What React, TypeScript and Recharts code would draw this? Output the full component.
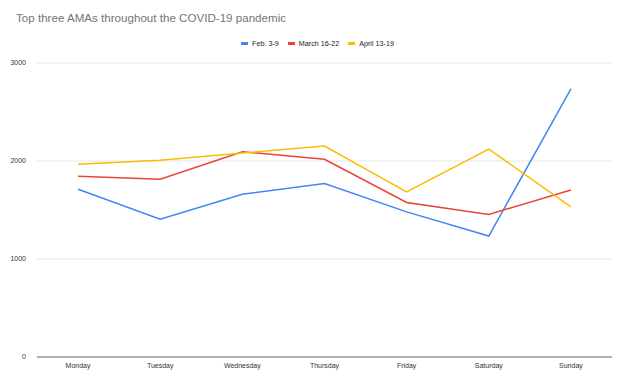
import { LineChart, Line, XAxis, YAxis, CartesianGrid } from 'recharts';

const days = ['Monday', 'Tuesday', 'Wednesday', 'Thursday', 'Friday', 'Saturday', 'Sunday'];
const feb = [1712, 1407, 1661, 1770, 1481, 1234, 2736];
const march = [1844, 1814, 2095, 2017, 1577, 1455, 1705];
const april = [1966, 2007, 2081, 2153, 1685, 2122, 1532];
const yTicks = [0, 1000, 2000, 3000];

const series = [
  { key: 'feb', name: 'Feb. 3-9', color: '#4285f4' },
  { key: 'march', name: 'March 16-22', color: '#ea4335' },
  { key: 'april', name: 'April 13-19', color: '#fbbc04' },
];

const data = days.map((day, i) => ({ day, feb: feb[i], march: march[i], april: april[i] }));

const font = '"Liberation Sans", Arial, sans-serif';

function LegendBox() {
  return (
    <div style={{ position: 'absolute', left: 241, top: 39, display: 'flex', fontFamily: font, fontSize: 7.2, color: '#222' }}>
      {series.map((s) => (
        <span key={s.key} style={{ display: 'flex', alignItems: 'center', marginRight: 9 }}>
          <span style={{ width: 7, height: 3, background: s.color, marginRight: 4, display: 'inline-block' }} />
          {s.name}
        </span>
      ))}
    </div>
  );
}

export default function App() {
  return (
    <div style={{ position: 'absolute', left: 0, top: 0, width: 622, height: 383, background: '#fff' }}>
      <div style={{ position: 'absolute', left: 16, top: 11, fontFamily: font, fontSize: 11.6, color: '#757575' }}>
        Top three AMAs throughout the COVID-19 pandemic
      </div>
      <LegendBox />
      <LineChart width={622} height={383} data={data} margin={{ top: 63, right: 10, bottom: 0, left: 0 }}>
        <CartesianGrid vertical={false} stroke="#e6e6e6" />
        <XAxis
          dataKey="day"
          scale="band"
          height={26}
          tickLine={false}
          axisLine={{ stroke: '#999', strokeWidth: 1.5 }}
          tick={{ fontSize: 7, fill: '#333', fontFamily: font }}
          tickMargin={0}
        />
        <YAxis
          domain={[0, 3000]}
          ticks={yTicks}
          width={37}
          tickLine={false}
          axisLine={false}
          tick={{ fontSize: 7, fill: '#333', fontFamily: font }}
          tickMargin={5}
        />
        {series.map((s) => (
          <Line
            key={s.key}
            dataKey={s.key}
            name={s.name}
            stroke={s.color}
            strokeWidth={1.5}
            dot={false}
            isAnimationActive={false}
          />
        ))}
      </LineChart>
    </div>
  );
}
